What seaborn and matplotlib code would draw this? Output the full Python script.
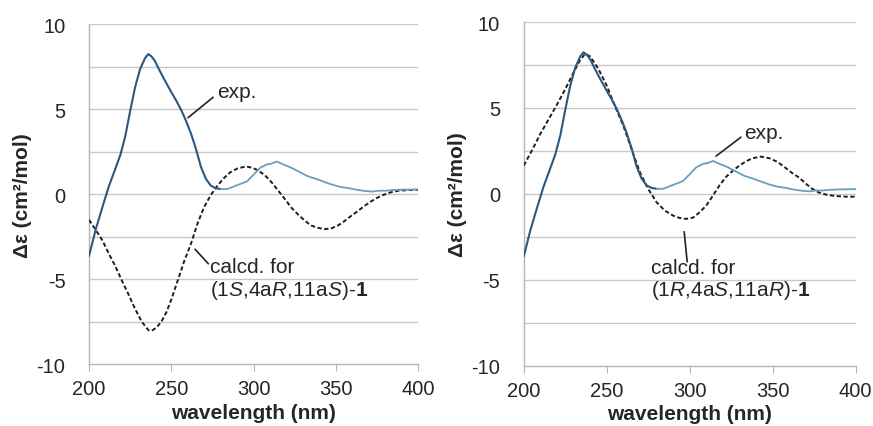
import numpy as np
import pandas as pd
import matplotlib
matplotlib.use("Agg")
import matplotlib.pyplot as plt
import seaborn as sns

# experimental CD spectrum (same in both panels)
exp_wl = [200, 204, 208, 212, 216, 219, 222, 225, 228, 231, 234, 236, 238, 240, 243,
          246, 250, 253, 256, 259, 262, 265, 268, 271, 274, 277, 280, 284, 288, 292,
          296, 300, 304, 308, 311, 314, 318, 323, 328, 333, 338, 343, 348, 353, 358,
          363, 368, 372, 376, 380, 385, 390, 395, 400]
exp_de = [-3.63, -2.1, -0.8, 0.45, 1.5, 2.3, 3.4, 4.9, 6.3, 7.35, 8.0, 8.24, 8.1, 7.84,
          7.25, 6.7, 6.0, 5.5, 4.95, 4.3, 3.55, 2.65, 1.6, 0.9, 0.5, 0.35, 0.3, 0.3,
          0.45, 0.6, 0.75, 1.15, 1.55, 1.75, 1.8, 1.92, 1.75, 1.55, 1.3, 1.05, 0.9,
          0.72, 0.55, 0.42, 0.35, 0.25, 0.18, 0.15, 0.2, 0.2, 0.24, 0.26, 0.27, 0.28]

# calculated spectrum for (1S,4aR,11aS)-1
calcS_wl = [200, 204, 208, 212, 216, 220, 224, 228, 232, 236, 238, 241, 244, 247, 250,
            254, 258, 262, 266, 270, 274, 278, 282, 286, 290, 294, 297, 300, 303, 307,
            311, 315, 319, 323, 327, 331, 335, 339, 343, 347, 351, 355, 359, 363, 367,
            371, 375, 379, 383, 388, 394, 400]
calcS_de = [-1.51, -2.1, -2.7, -3.5, -4.25, -5.1, -5.9, -6.76, -7.5, -8.0, -8.04, -7.85,
            -7.5, -6.95, -6.2, -5.05, -3.9, -2.9, -1.7, -0.75, -0.05, 0.5, 0.95, 1.3,
            1.5, 1.6, 1.6, 1.52, 1.38, 1.1, 0.69, 0.2, -0.29, -0.8, -1.2, -1.55, -1.85,
            -1.98, -2.06, -2.02, -1.86, -1.6, -1.3, -1.02, -0.72, -0.45, -0.22, -0.04,
            0.1, 0.2, 0.24, 0.25]

# calculated spectrum for (1R,4aS,11aR)-1
calcR_wl = [200, 205, 210, 215, 220, 225, 230, 234, 237, 240, 245, 250, 255, 260, 265,
            270, 275, 280, 285, 290, 294, 298, 302, 306, 310, 314, 318, 322, 326, 330,
            334, 338, 343, 348, 353, 358, 362, 366, 370, 374, 378, 383, 388, 394, 400]
calcR_de = [1.65, 2.55, 3.5, 4.35, 5.2, 6.1, 7.07, 7.8, 8.15, 8.0, 7.27, 6.3, 5.1, 3.97,
            2.6, 1.26, 0.29, -0.48, -0.97, -1.26, -1.4, -1.45, -1.38, -1.07, -0.68,
            -0.1, 0.5, 1.0, 1.35, 1.65, 1.9, 2.08, 2.17, 2.08, 1.86, 1.5, 1.2, 0.95,
            0.6, 0.29, 0.08, -0.06, -0.12, -0.16, -0.16]

sns.set_style("white")
plt.rcParams["font.family"] = ["Liberation Sans", "DejaVu Sans"]
plt.rcParams["mathtext.fontset"] = "custom"
plt.rcParams["mathtext.rm"] = "Liberation Sans"
plt.rcParams["mathtext.it"] = "Liberation Sans:italic"
plt.rcParams["mathtext.bf"] = "Liberation Sans:bold"

exp_df = pd.DataFrame({"wl": exp_wl, "de": exp_de})
exp_main = exp_df[exp_df["wl"] <= 280]
exp_tail = exp_df[exp_df["wl"] >= 280]
calcS_df = pd.DataFrame({"wl": calcS_wl, "de": calcS_de})
calcR_df = pd.DataFrame({"wl": calcR_wl, "de": calcR_de})

fig = plt.figure(figsize=(8.73, 4.27), dpi=100)
ax1 = fig.add_axes([0.102, 0.145, 0.377, 0.796])
ax2 = fig.add_axes([0.600, 0.141, 0.380, 0.805])

for ax, calc_df in [(ax1, calcS_df), (ax2, calcR_df)]:
    for y in np.arange(-7.5, 10.1, 2.5):
        ax.axhline(y, color="#c8c8c8", lw=1.0, zorder=0)
    sns.lineplot(data=calc_df, x="wl", y="de", ax=ax, color="#1e1e1e", lw=1.4,
                 linestyle=(0, (2.2, 1.3)), zorder=3)
    sns.lineplot(data=exp_main, x="wl", y="de", ax=ax, color="#2c5880", lw=1.5, zorder=4)
    sns.lineplot(data=exp_tail, x="wl", y="de", ax=ax, color="#6a9ebd", lw=1.3, zorder=4)
    ax.set_xlim(200, 400)
    ax.set_ylim(-10, 10)
    ax.set_xticks([200, 250, 300, 350, 400])
    ax.set_yticks([-10, -5, 0, 5, 10])
    ax.set_yticklabels(["-10", "-5", "0", "5", "10"])
    for s in ["top", "right"]:
        ax.spines[s].set_visible(False)
    for s in ["left", "bottom"]:
        ax.spines[s].set_color("#b5b5b5")
        ax.spines[s].set_linewidth(1.0)
    ax.tick_params(axis="x", direction="out", length=5, color="#b5b5b5",
                   labelsize=14.5, pad=6, bottom=True)
    ax.tick_params(axis="y", length=0, labelsize=14.5, pad=17)
    ax.set_xlabel("wavelength (nm)", fontsize=15, fontweight="bold", labelpad=3)
    ax.set_ylabel("Δε (cm²/mol)", fontsize=15, fontweight="bold", labelpad=3)

line_kw = dict(color="#222222", lw=1.2)

# annotations, left panel
ax1.plot([260.2, 275.4], [4.5, 5.7], **line_kw)
ax1.text(278, 6.05, "exp.", fontsize=15, va="center", ha="left")
ax1.plot([264.4, 272.5], [-3.24, -4.1], **line_kw)
ax1.text(273.6, -3.7, "calcd. for\n(1$\\it{S}$,4a$\\it{R}$,11a$\\it{S}$)-$\\bf{1}$",
         fontsize=15, va="top", ha="left", linespacing=1.1)

# annotations, right panel
ax2.plot([315.9, 330.9], [2.2, 3.3], **line_kw)
ax2.text(333, 3.55, "exp.", fontsize=15, va="center", ha="left")
ax2.plot([296.7, 298.5], [-2.2, -3.95], **line_kw)
ax2.text(276.7, -3.7, "calcd. for\n(1$\\it{R}$,4a$\\it{S}$,11a$\\it{R}$)-$\\bf{1}$",
         fontsize=15, va="top", ha="left", linespacing=1.1)

fig.savefig("out.png", dpi=100)
